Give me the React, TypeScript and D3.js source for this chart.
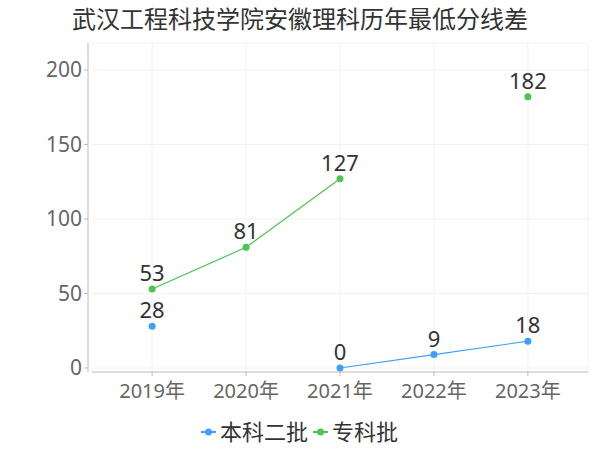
import React from 'react';
import * as d3 from 'd3';

const years = ['2019年', '2020年', '2021年', '2022年', '2023年'];
const benke = [28, null, 0, 9, 18];
const zhuanke = [53, 81, 127, null, 182];
const yTicks = [0, 50, 100, 150, 200];

const W = 600;
const H = 450;
const font = '"Noto Sans", "Noto Sans CJK SC", sans-serif';

const series = [
  { name: '本科二批', values: benke, color: '#3f9fff' },
  { name: '专科批', values: zhuanke, color: '#4cc552' },
];

const App = () => {
  const x = d3.scalePoint<string>().domain(years).range([92, 588]).padding(0.64);
  const y = d3.scaleLinear().domain([0, 200]).range([368, 70]);

  const line = d3
    .line<number | null>()
    .defined(d => d !== null)
    .x((d, i) => x(years[i]) as number)
    .y(d => y(d as number));

  return (
    <svg width={W} height={H} style={{ position: 'absolute', left: 0, top: 0 }} fontFamily={font}>
      <rect width={W} height={H} fill="#fff" />
      <text x={300} y={28} textAnchor="middle" fontSize={24} fill="#333">
        武汉工程科技学院安徽理科历年最低分线差
      </text>

      {/* grid */}
      {yTicks.map(t => (
        <line key={'gy' + t} x1={92} x2={588} y1={y(t)} y2={y(t)} stroke="#f2f2f2" />
      ))}
      {years.map(c => (
        <line key={'gx' + c} x1={x(c)} x2={x(c)} y1={43} y2={372} stroke="#f2f2f2" />
      ))}
      <line x1={588} x2={588} y1={43} y2={372} stroke="#f2f2f2" />
      <line x1={92} x2={588} y1={43} y2={43} stroke="#f2f2f2" />

      {/* axes */}
      <line x1={88} x2={88} y1={43} y2={372} stroke="#bbb" />
      <line x1={92} x2={588} y1={372} y2={372} stroke="#bbb" />
      {yTicks.map(t => (
        <g key={'yt' + t}>
          <line x1={84} x2={88} y1={y(t)} y2={y(t)} stroke="#bbb" />
          <text x={82} y={y(t)} dy="0.35em" textAnchor="end" fontSize={21} fill="#666">
            {t}
          </text>
        </g>
      ))}
      {years.map(c => (
        <g key={'xt' + c}>
          <line x1={x(c)} x2={x(c)} y1={372} y2={376} stroke="#bbb" />
          <text x={x(c)} y={398} textAnchor="middle" fontSize={20} fill="#666">
            {c}
          </text>
        </g>
      ))}

      {/* series */}
      {series.map(s => (
        <g key={s.name}>
          <path d={line(s.values) || ''} fill="none" stroke={s.color} strokeWidth={1.2} />
          {s.values.map((v, i) =>
            v === null ? null : (
              <g key={i}>
                <circle cx={x(years[i])} cy={y(v)} r={3.5} fill={s.color} />
                <text x={x(years[i])} y={y(v) - 8} textAnchor="middle" fontSize={22} fill="#333">
                  {v}
                </text>
              </g>
            )
          )}
        </g>
      ))}

      {/* legend */}
      <g transform="translate(201,432)">
        <line x1={0} x2={15} y1={0} y2={0} stroke={series[0].color} strokeWidth={2} />
        <circle cx={7.5} cy={0} r={3.5} fill={series[0].color} />
        <text x={19} y={0} dy="0.35em" fontSize={22} fill="#333">
          {series[0].name}
        </text>
        <line x1={112} x2={127} y1={0} y2={0} stroke={series[1].color} strokeWidth={2} />
        <circle cx={119.5} cy={0} r={3.5} fill={series[1].color} />
        <text x={131} y={0} dy="0.35em" fontSize={22} fill="#333">
          {series[1].name}
        </text>
      </g>
    </svg>
  );
};

export default App;
